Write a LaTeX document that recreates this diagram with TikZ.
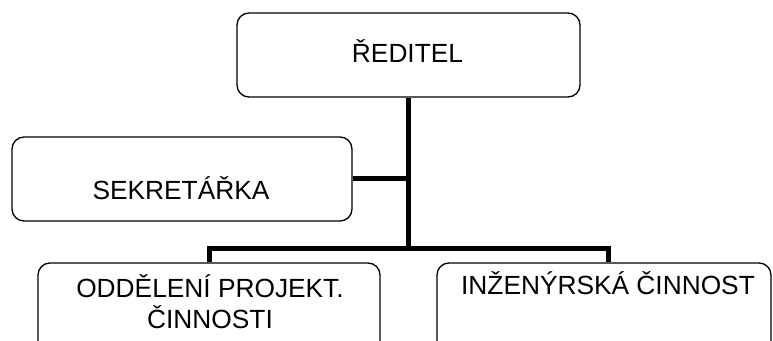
\documentclass[tikz,border=0pt]{standalone}
\usepackage{fontspec}
\setmainfont{Liberation Sans}
\begin{document}
\begin{tikzpicture}[x=1pt,y=1pt,
  box/.style={draw, line width=1.3pt, rounded corners=12pt, inner sep=0pt},
  conn/.style={line width=5pt, line join=miter},
  lbl/.style={font=\fontsize{26.3}{31}\selectfont, inner sep=0pt, align=center, anchor=base}]
\useasboundingbox (0,0) rectangle (773,340);
\clip (0,0) rectangle (773,340);
% boxes
\node[box, minimum width=343pt, minimum height=84pt] (dir) at (408.5,285) {};
\node[box, minimum width=340pt, minimum height=84pt] (sec) at (182,161) {};
\node[box, minimum width=342pt, minimum height=127pt] (odd) at (209,13.5) {};
\node[box, minimum width=334pt, minimum height=127pt] (inz) at (604,13.5) {};
% texts
\node[lbl] (dirt) at (407.5,277) {ŘEDITEL};
\node[lbl] (sect) at (181,140) {SEKRETÁŘKA};
\node[lbl] (oddt) at (210,12) {ODDĚLENÍ PROJEKT.\\ČINNOSTI};
\node[lbl] (inzt) at (608,46) {INŽENÝRSKÁ ČINNOST};
% connectors
\coordinate (bar) at (408.5,91);
\coordinate (inzn) at ([xshift=4pt]inz.north);
\draw[conn] (dir.south) -- (bar);
\draw[conn] (sec.east) -- (sec.east -| dir.south);
\draw[conn] (odd.north) -- (odd.north |- bar) -- (inzn |- bar) -- (inzn);
\end{tikzpicture}
\end{document}
